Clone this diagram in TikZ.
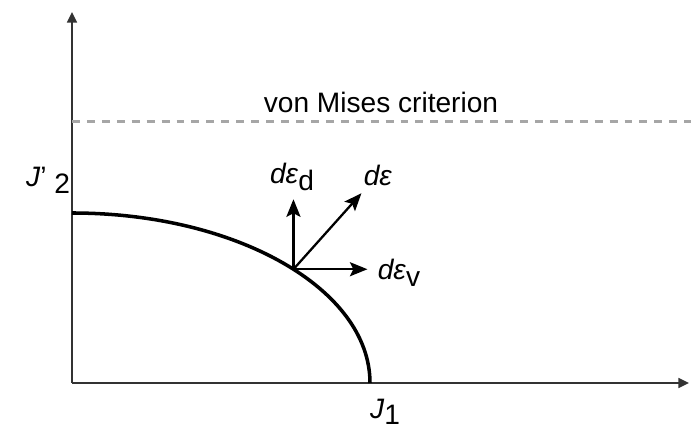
\documentclass[tikz,border=0pt]{standalone}
\usepackage{fontspec}
\setmainfont{Liberation Sans}
\usetikzlibrary{arrows.meta, positioning, calc}

\begin{document}
\begin{tikzpicture}[
    x=0.02cm, y=0.02cm,
    every node/.style={inner sep=1pt, font=\fontsize{16}{19}\selectfont},
    axis/.style={draw, black!80, line width=1.4pt, -{Triangle[length=6pt, width=5.5pt]}},
    incr/.style={draw, line width=1.3pt, -{Stealth[length=10pt, width=8pt, inset=2pt]}},
    surface/.style={draw, line width=2pt},
    criterion/.style={draw, gray!70, line width=1.7pt, dash pattern=on 4.5pt off 4pt}
]
    \useasboundingbox (-72,-49) rectangle (619,383);
    % axes
    \coordinate (O) at (0,0);
    \coordinate (ytip) at (0,371);
    \coordinate (xtip) at (617,0);
    \draw[axis] (O) -- (ytip);
    \draw[axis] (O) -- (xtip);
    \node (J2) at (-24,203) {\textit{J}'\raisebox{-0.45ex}{ 2}};
    \node (J1) at (313,-29) {\textit{J}\raisebox{-0.4ex}{1}};
    % von Mises line
    \coordinate (vmL) at (0,261);
    \coordinate (vmR) at (619,261);
    \draw[criterion] (vmL) -- (vmR);
    \node (vm) at (309,281) {von Mises criterion};
    % yield surface
    \coordinate (top) at (0,170);
    \draw[surface] (top) arc[start angle=90, end angle=0, x radius=298, y radius=170];
    % strain increments
    \coordinate (P) at ({298*cos(42)},{170*sin(42)});
    \coordinate (dd) at ($(P)+(0,70)$);
    \coordinate (de) at ($(P)+(68,76)$);
    \coordinate (dv) at ($(P)+(74,0)$);
    \draw[incr] (P) -- (dd);
    \draw[incr] (P) -- (de);
    \draw[incr] (P) -- (dv);
    \node (ldd) at (220,206) {\textit{dε}\raisebox{-0.45ex}{d}};
    \node (lde) at (306,208) {\textit{dε}};
    \node (ldv) at (327,110) {\textit{dε}\raisebox{-0.45ex}{v}};
\end{tikzpicture}
\end{document}
